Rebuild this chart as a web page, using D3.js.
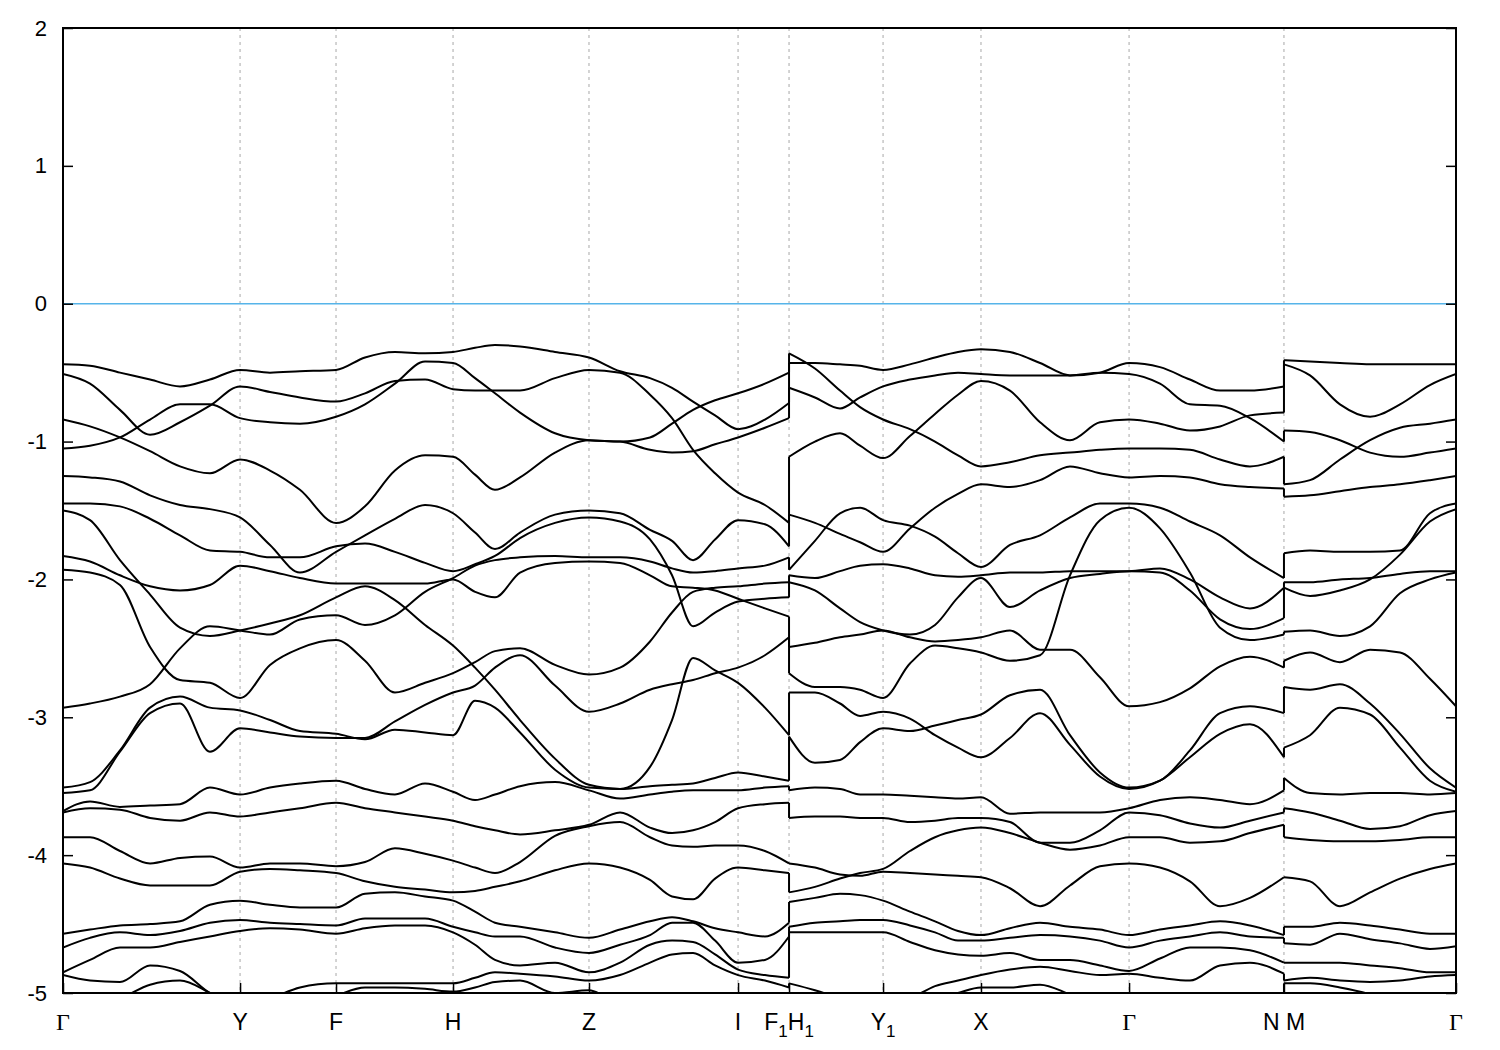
<!DOCTYPE html>
<html><head><meta charset="utf-8">
<script src="https://cdn.jsdelivr.net/npm/d3@7"></script>
<style>body{margin:0;background:#fff}</style>
</head><body>
<svg id="c" width="1500" height="1050"></svg>
<script>
// ---- k-path (fraction of total path length) ----
const kTickPos = [0, 0.1271, 0.1960, 0.2800, 0.3776, 0.4846, 0.5212, 0.5887, 0.6590, 0.7653, 0.8765, 1.0];
const kTickLabels = ["Γ", "Y", "F", "H", "Z", "I", "F_1H_1", "Y_1", "X", "Γ", "N M", "Γ"];
const energyTicks = [-5, -4, -3, -2, -1, 0, 1, 2];

// sample k of each path section (sections separated by the jumps at F1|H1 and N|M)
const kGridA = [0,0.0194,0.0409,0.0625,0.0840,0.1055,0.1271,0.1486,0.1701,0.1960,0.2168,0.2383,0.2599,0.2800,0.2958,0.3101,0.3281,0.3532,0.3776,0.3999,0.4214,0.4372,0.4523,0.4681,0.4846,0.5039,0.5212];
const kGridB = [0.5212,0.5398,0.5578,0.5722,0.5887,0.6080,0.6260,0.6425,0.6590,0.6798,0.7014,0.7229,0.7444,0.7653,0.7875,0.8090,0.8306,0.8521,0.8765];
const kGridC = [0.8765,0.8952,0.9167,0.9383,0.9598,0.9813,1.0];

// ---- band energies (eV), section Γ–Y–F–H–Z–I–F1 ----
const bandsA = [
 [-0.44,-0.45,-0.50,-0.55,-0.60,-0.55,-0.48,-0.50,-0.49,-0.48,-0.39,-0.35,-0.36,-0.35,-0.32,-0.30,-0.31,-0.35,-0.39,-0.49,-0.54,-0.61,-0.71,-0.81,-0.91,-0.84,-0.72],
 [-0.51,-0.58,-0.77,-0.95,-0.86,-0.74,-0.60,-0.64,-0.68,-0.71,-0.65,-0.56,-0.55,-0.62,-0.63,-0.63,-0.63,-0.54,-0.48,-0.50,-0.66,-0.83,-1.06,-1.23,-1.37,-1.46,-1.59],
 [-0.84,-0.89,-0.97,-1.07,-1.18,-1.23,-1.13,-1.21,-1.35,-1.59,-1.47,-1.21,-1.10,-1.11,-1.24,-1.35,-1.26,-1.08,-0.99,-1.00,-0.97,-0.87,-0.77,-0.70,-0.65,-0.58,-0.50],
 [-1.05,-1.03,-0.97,-0.84,-0.73,-0.73,-0.83,-0.86,-0.87,-0.82,-0.73,-0.58,-0.42,-0.43,-0.54,-0.65,-0.79,-0.94,-0.99,-1.00,-1.06,-1.08,-1.07,-1.02,-0.97,-0.90,-0.83],
 [-1.25,-1.26,-1.29,-1.39,-1.46,-1.49,-1.55,-1.75,-1.95,-1.80,-1.68,-1.56,-1.46,-1.52,-1.66,-1.78,-1.66,-1.53,-1.50,-1.52,-1.64,-1.72,-1.86,-1.71,-1.57,-1.60,-1.76],
 [-1.45,-1.45,-1.47,-1.56,-1.68,-1.79,-1.80,-1.84,-1.84,-1.76,-1.74,-1.80,-1.88,-1.94,-1.89,-1.83,-1.70,-1.59,-1.55,-1.58,-1.71,-1.97,-2.34,-2.24,-2.16,-2.14,-2.13],
 [-1.83,-1.87,-1.97,-2.05,-2.08,-2.04,-1.90,-1.94,-1.99,-2.03,-2.03,-2.03,-2.03,-2.00,-2.09,-2.13,-1.95,-1.88,-1.87,-1.88,-1.97,-2.05,-2.06,-2.08,-2.14,-2.21,-2.27],
 [-2.93,-2.90,-2.85,-2.76,-2.50,-2.34,-2.37,-2.40,-2.29,-2.26,-2.33,-2.26,-2.09,-1.99,-1.90,-1.86,-1.84,-1.83,-1.84,-1.84,-1.87,-1.92,-1.95,-1.94,-1.92,-1.90,-1.84],
 [-1.50,-1.57,-1.86,-2.11,-2.35,-2.41,-2.37,-2.32,-2.26,-2.13,-2.05,-2.15,-2.33,-2.48,-2.64,-2.80,-3.02,-3.30,-3.49,-3.52,-3.36,-3.02,-2.57,-2.66,-2.75,-2.93,-3.13],
 [-1.93,-1.95,-2.04,-2.49,-2.73,-2.75,-2.86,-2.62,-2.50,-2.44,-2.59,-2.82,-2.75,-2.68,-2.60,-2.52,-2.50,-2.62,-2.69,-2.64,-2.45,-2.24,-2.09,-2.06,-2.05,-2.03,-2.02],
 [-3.51,-3.47,-3.24,-2.93,-2.85,-2.93,-2.95,-3.02,-3.10,-3.12,-3.16,-3.09,-3.11,-3.13,-2.88,-2.93,-3.11,-3.38,-3.51,-3.52,-3.50,-3.49,-3.48,-3.44,-3.40,-3.43,-3.46],
 [-3.55,-3.53,-3.25,-2.97,-2.90,-3.25,-3.08,-3.11,-3.14,-3.15,-3.15,-3.03,-2.91,-2.82,-2.77,-2.64,-2.55,-2.77,-2.96,-2.90,-2.80,-2.76,-2.73,-2.68,-2.64,-2.55,-2.42],
 [-3.68,-3.61,-3.65,-3.64,-3.63,-3.51,-3.56,-3.51,-3.48,-3.46,-3.52,-3.56,-3.48,-3.54,-3.60,-3.56,-3.50,-3.47,-3.53,-3.59,-3.56,-3.54,-3.53,-3.53,-3.53,-3.51,-3.50],
 [-3.69,-3.66,-3.67,-3.73,-3.75,-3.69,-3.72,-3.69,-3.66,-3.62,-3.66,-3.69,-3.72,-3.75,-3.79,-3.82,-3.85,-3.82,-3.78,-3.69,-3.80,-3.84,-3.82,-3.76,-3.66,-3.63,-3.62],
 [-3.87,-3.87,-3.97,-4.06,-4.02,-4.01,-4.09,-4.06,-4.06,-4.08,-4.05,-3.95,-3.99,-4.04,-4.09,-4.13,-4.05,-3.86,-3.79,-3.76,-3.87,-3.93,-3.94,-3.93,-3.93,-3.97,-4.06],
 [-4.06,-4.09,-4.17,-4.22,-4.22,-4.22,-4.12,-4.10,-4.11,-4.13,-4.19,-4.23,-4.25,-4.27,-4.26,-4.23,-4.19,-4.11,-4.06,-4.09,-4.18,-4.30,-4.32,-4.17,-4.09,-4.11,-4.13],
 [-4.57,-4.54,-4.51,-4.50,-4.48,-4.36,-4.33,-4.36,-4.38,-4.38,-4.28,-4.27,-4.30,-4.33,-4.41,-4.49,-4.52,-4.56,-4.60,-4.54,-4.48,-4.45,-4.48,-4.53,-4.56,-4.59,-4.49],
 [-4.67,-4.60,-4.56,-4.58,-4.55,-4.49,-4.47,-4.49,-4.50,-4.51,-4.46,-4.46,-4.46,-4.52,-4.56,-4.59,-4.59,-4.67,-4.71,-4.65,-4.58,-4.49,-4.49,-4.62,-4.78,-4.76,-4.59],
 [-4.85,-4.76,-4.67,-4.67,-4.63,-4.59,-4.55,-4.53,-4.54,-4.57,-4.53,-4.51,-4.51,-4.56,-4.65,-4.76,-4.80,-4.78,-4.85,-4.78,-4.65,-4.62,-4.63,-4.72,-4.83,-4.87,-4.89],
 [-4.87,-4.91,-4.92,-4.80,-4.84,-5.00,-5.09,-5.04,-4.96,-4.93,-4.93,-4.93,-4.93,-4.93,-4.89,-4.85,-4.86,-4.88,-4.91,-4.87,-4.78,-4.72,-4.71,-4.80,-4.87,-4.91,-4.96],
 [-5.12,-5.09,-5.04,-4.94,-4.91,-5.00,-5.12,-5.16,-5.12,-5.02,-4.96,-4.96,-4.97,-4.99,-4.96,-4.92,-4.91,-5.00,-4.98,-5.09,-5.12,-5.12,-5.12,-5.12,-5.12,-5.12,-5.12]
];

// ---- section H1–Y1–X–Γ–N ----
const bandsB = [
 [-0.43,-0.43,-0.44,-0.45,-0.48,-0.44,-0.39,-0.35,-0.33,-0.35,-0.43,-0.52,-0.50,-0.43,-0.46,-0.55,-0.63,-0.63,-0.60],
 [-0.36,-0.47,-0.63,-0.75,-0.84,-0.91,-1.00,-1.10,-1.18,-1.15,-1.10,-1.08,-1.06,-1.05,-1.05,-1.06,-1.13,-1.18,-1.11],
 [-0.61,-0.68,-0.76,-0.68,-0.60,-0.55,-0.52,-0.50,-0.51,-0.52,-0.52,-0.52,-0.50,-0.51,-0.58,-0.73,-0.74,-0.83,-1.00],
 [-1.11,-1.00,-0.94,-1.03,-1.12,-0.96,-0.80,-0.66,-0.56,-0.63,-0.86,-0.99,-0.86,-0.84,-0.87,-0.92,-0.89,-0.81,-0.79],
 [-1.53,-1.59,-1.67,-1.73,-1.80,-1.63,-1.48,-1.38,-1.31,-1.33,-1.28,-1.18,-1.23,-1.26,-1.25,-1.26,-1.31,-1.33,-1.34],
 [-1.93,-1.72,-1.52,-1.48,-1.57,-1.61,-1.69,-1.81,-1.91,-1.75,-1.68,-1.55,-1.45,-1.45,-1.48,-1.58,-1.68,-1.84,-1.99],
 [-1.97,-1.99,-1.94,-1.90,-1.89,-1.92,-1.97,-1.98,-1.97,-1.95,-1.95,-1.94,-1.94,-1.94,-1.92,-2.00,-2.13,-2.21,-2.06],
 [-2.02,-2.08,-2.21,-2.31,-2.37,-2.40,-2.33,-2.13,-1.99,-2.20,-2.08,-1.99,-1.96,-1.94,-1.95,-2.08,-2.29,-2.36,-2.28],
 [-2.68,-2.78,-2.78,-2.80,-2.86,-2.61,-2.48,-2.50,-2.53,-2.59,-2.55,-1.97,-1.57,-1.48,-1.63,-1.95,-2.35,-2.44,-2.40],
 [-2.49,-2.46,-2.42,-2.40,-2.37,-2.42,-2.45,-2.44,-2.42,-2.37,-2.51,-2.51,-2.71,-2.92,-2.89,-2.79,-2.63,-2.56,-2.64],
 [-2.82,-2.82,-2.90,-2.99,-2.96,-3.01,-3.13,-3.22,-3.29,-3.15,-2.97,-3.20,-3.43,-3.52,-3.46,-3.29,-3.12,-3.05,-3.29],
 [-3.14,-3.33,-3.31,-3.18,-3.08,-3.10,-3.06,-3.02,-2.98,-2.84,-2.80,-3.13,-3.40,-3.51,-3.46,-3.24,-2.97,-2.92,-2.97],
 [-3.53,-3.51,-3.52,-3.56,-3.56,-3.57,-3.58,-3.59,-3.58,-3.70,-3.69,-3.69,-3.69,-3.66,-3.60,-3.58,-3.60,-3.63,-3.53],
 [-3.73,-3.72,-3.72,-3.73,-3.73,-3.76,-3.75,-3.73,-3.73,-3.76,-3.91,-3.91,-3.82,-3.69,-3.71,-3.77,-3.80,-3.75,-3.69],
 [-4.27,-4.23,-4.17,-4.13,-4.10,-3.97,-3.87,-3.82,-3.80,-3.84,-3.91,-3.96,-3.93,-3.87,-3.87,-3.91,-3.90,-3.84,-3.78],
 [-4.06,-4.09,-4.14,-4.15,-4.12,-4.13,-4.14,-4.15,-4.16,-4.24,-4.37,-4.22,-4.08,-4.06,-4.09,-4.19,-4.37,-4.31,-4.16],
 [-4.34,-4.31,-4.28,-4.29,-4.33,-4.41,-4.48,-4.55,-4.58,-4.53,-4.49,-4.52,-4.54,-4.58,-4.54,-4.51,-4.48,-4.51,-4.58],
 [-4.52,-4.49,-4.48,-4.47,-4.47,-4.51,-4.56,-4.62,-4.62,-4.60,-4.58,-4.59,-4.62,-4.67,-4.62,-4.59,-4.56,-4.59,-4.60],
 [-4.56,-4.56,-4.56,-4.56,-4.56,-4.63,-4.69,-4.72,-4.73,-4.71,-4.76,-4.76,-4.80,-4.84,-4.75,-4.67,-4.67,-4.69,-4.78],
 [-5.12,-5.12,-5.12,-5.12,-5.09,-5.04,-4.95,-4.91,-4.87,-4.83,-4.81,-4.84,-4.87,-4.86,-4.89,-4.91,-4.80,-4.78,-4.86],
 [-4.93,-4.98,-5.04,-5.09,-5.12,-5.12,-5.05,-5.00,-4.96,-4.96,-4.94,-5.01,-5.09,-5.12,-5.09,-5.01,-5.00,-5.05,-5.12]
];

// ---- section M–Γ ----
const bandsC = [
 [-0.41,-0.42,-0.43,-0.44,-0.44,-0.44,-0.44],
 [-0.44,-0.52,-0.73,-0.82,-0.73,-0.59,-0.51],
 [-0.92,-0.93,-0.99,-1.08,-1.11,-1.08,-1.05],
 [-1.31,-1.28,-1.13,-0.99,-0.90,-0.87,-0.84],
 [-1.40,-1.39,-1.36,-1.33,-1.31,-1.28,-1.25],
 [-1.81,-1.79,-1.80,-1.80,-1.79,-1.52,-1.45],
 [-2.06,-2.12,-2.08,-2.00,-1.82,-1.58,-1.49],
 [-2.02,-2.02,-2.00,-1.99,-1.96,-1.94,-1.94],
 [-2.38,-2.37,-2.41,-2.34,-2.10,-2.00,-1.95],
 [-2.59,-2.53,-2.60,-2.51,-2.53,-2.72,-2.92],
 [-2.78,-2.80,-2.76,-2.90,-3.12,-3.37,-3.51],
 [-3.22,-3.13,-2.93,-2.98,-3.22,-3.46,-3.54],
 [-3.44,-3.55,-3.56,-3.55,-3.55,-3.56,-3.55],
 [-3.66,-3.69,-3.75,-3.81,-3.79,-3.71,-3.68],
 [-3.87,-3.89,-3.90,-3.90,-3.89,-3.87,-3.87],
 [-4.16,-4.19,-4.37,-4.27,-4.17,-4.10,-4.06],
 [-4.52,-4.52,-4.49,-4.51,-4.54,-4.57,-4.57],
 [-4.64,-4.65,-4.57,-4.61,-4.64,-4.68,-4.66],
 [-4.78,-4.78,-4.78,-4.80,-4.82,-4.85,-4.85],
 [-4.91,-4.89,-4.91,-4.92,-4.91,-4.88,-4.87],
 [-4.93,-4.93,-4.96,-5.01,-5.09,-5.12,-5.12]
];

// ---- drawing ----
const L = 63, R = 1456, T = 28, B = 993;
const svg = d3.select("#c");
const x = d3.scaleLinear().domain([0, 1]).range([L, R]);
const y = d3.scaleLinear().domain([-5, 2]).range([B, T]);

svg.append("defs").append("clipPath").attr("id", "plotclip")
  .append("rect").attr("x", L).attr("y", T).attr("width", R - L).attr("height", B - T);

// vertical dashed grid at inner symmetry points
svg.append("g").selectAll("line")
  .data(kTickPos.filter(k => k > 0 && k < 1))
  .join("line")
  .attr("x1", d => x(d)).attr("x2", d => x(d))
  .attr("y1", T).attr("y2", B)
  .attr("stroke", "#a8a8a8").attr("stroke-width", 1)
  .attr("stroke-dasharray", "3,4");

const plot = svg.append("g").attr("clip-path", "url(#plotclip)");

// Fermi level
plot.append("line")
  .attr("x1", x(0)).attr("x2", x(1)).attr("y1", y(0)).attr("y2", y(0))
  .attr("stroke", "#56b4e9").attr("stroke-width", 1.6);

const line = d3.line().x(d => x(d[0])).y(d => y(d[1])).curve(d3.curveMonotoneX);
const sections = [[kGridA, bandsA], [kGridB, bandsB], [kGridC, bandsC]];
sections.forEach(([ks, bands]) => {
  plot.append("g").selectAll("path")
    .data(bands)
    .join("path")
    .attr("d", b => line(ks.map((k, i) => [k, b[i]])))
    .attr("fill", "none").attr("stroke", "#000").attr("stroke-width", 2)
    .attr("stroke-linejoin", "round");
});

// vertical jumps where the path is discontinuous
function jumps(left, right, k) {
  const ends = left.map(b => b[b.length - 1]).sort((a, b) => b - a);
  const starts = right.map(b => b[0]).sort((a, b) => b - a);
  const n = Math.min(ends.length, starts.length);
  const pairs = d3.range(n).map(i => [ends[i], starts[i]]);
  plot.append("g").selectAll("line").data(pairs).join("line")
    .attr("x1", x(k)).attr("x2", x(k))
    .attr("y1", d => y(d[0])).attr("y2", d => y(d[1]))
    .attr("stroke", "#000").attr("stroke-width", 2);
}
jumps(bandsA, bandsB, kGridA[kGridA.length - 1]);
jumps(bandsB, bandsC, kGridB[kGridB.length - 1]);

// axes
const fontSans = "'Liberation Sans', Arial, Helvetica, sans-serif";
const yAxisL = svg.append("g").attr("transform", `translate(${L},0)`)
  .call(d3.axisLeft(y).tickValues(energyTicks).tickSize(-10).tickPadding(16).tickFormat(d => String(d)));
yAxisL.select(".domain").remove();
yAxisL.selectAll(".tick line").attr("stroke", "#000").attr("stroke-width", 1.5);
yAxisL.selectAll(".tick text").attr("font-family", fontSans).attr("font-size", 22).attr("fill", "#000");

const yAxisR = svg.append("g").attr("transform", `translate(${R},0)`)
  .call(d3.axisRight(y).tickValues(energyTicks).tickSize(-10).tickFormat(""));
yAxisR.select(".domain").remove();
yAxisR.selectAll(".tick line").attr("stroke", "#000").attr("stroke-width", 1.5);

const xAxis = svg.append("g").attr("transform", `translate(0,${B})`)
  .call(d3.axisBottom(x).tickValues(kTickPos).tickSize(-10).tickFormat(""));
xAxis.select(".domain").remove();
xAxis.selectAll(".tick line").attr("stroke", "#000").attr("stroke-width", 1.5);

// frame
svg.append("rect").attr("x", L).attr("y", T).attr("width", R - L).attr("height", B - T)
  .attr("fill", "none").attr("stroke", "#000").attr("stroke-width", 2);

// k-point labels (with subscripts)
const lab = svg.append("g");
kTickPos.forEach((k, i) => {
  const s = kTickLabels[i];
  const t = lab.append("text").attr("x", x(k)).attr("y", 1030)
    .attr("text-anchor", "middle").attr("fill", "#000").attr("font-size", 23);
  if (s === "Γ") {
    t.attr("font-family", "'Liberation Serif', 'DejaVu Serif', serif").attr("font-size", 24).text(s);
    return;
  }
  t.attr("font-family", fontSans);
  const parts = s.match(/_\d|[^_]+/g);
  let low = false;
  parts.forEach(p => {
    if (p[0] === "_") {
      t.append("tspan").attr("font-size", 17).attr("dy", low ? 0 : 7).text(p.slice(1));
      low = true;
    } else {
      const ts = t.append("tspan").attr("font-size", 23).text(p);
      if (low) { ts.attr("dy", -7); low = false; }
    }
  });
});
</script>
</body></html>
